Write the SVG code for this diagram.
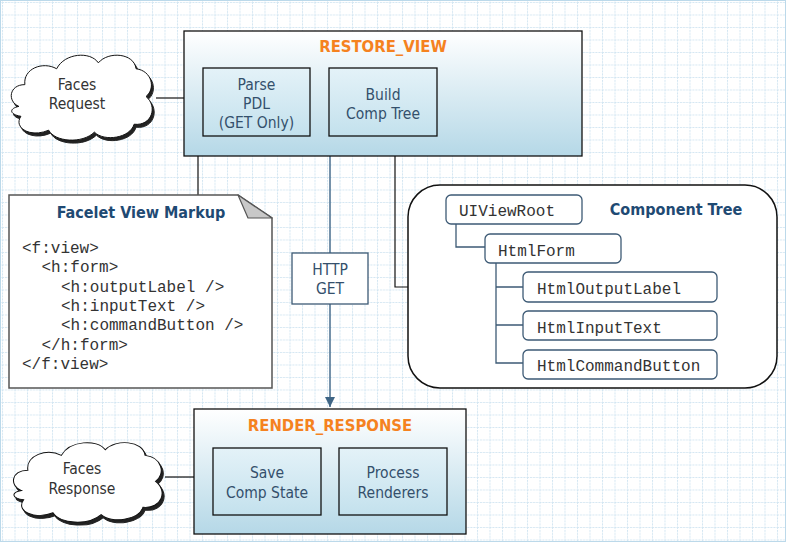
<svg xmlns="http://www.w3.org/2000/svg" width="786" height="542" viewBox="0 0 786 542">
<defs>
<pattern id="grid" x="2" y="2" width="12.5" height="12.5" patternUnits="userSpaceOnUse">
<path d="M0,0.5 H12.5 M0.5,0 V12.5" fill="none" stroke="#d3e6f2" stroke-width="1" stroke-dasharray="2,1"/>
</pattern>
<linearGradient id="phase" x1="0" y1="0" x2="0" y2="1">
<stop offset="0" stop-color="#ffffff"/>
<stop offset="1" stop-color="#b5d8e7"/>
</linearGradient>
<linearGradient id="inner" x1="0" y1="0" x2="0" y2="1">
<stop offset="0" stop-color="#e4f2f8"/>
<stop offset="1" stop-color="#c3e1ed"/>
</linearGradient>
<path id="cloud" d="M12,60 C0,55 2,38 18,38 C16,22 36,14 50,22 C58,6 84,4 92,16 C102,4 128,6 130,22 C146,24 150,42 140,50 C152,60 146,80 128,78 C124,92 98,96 88,86 C76,98 48,96 42,84 C24,92 6,82 14,70 C2,68 2,62 12,60 Z"/>
<marker id="arr" viewBox="0 0 10 10" refX="10" refY="5" markerWidth="10" markerHeight="10" markerUnits="userSpaceOnUse" orient="auto">
<path d="M0,0 L10,5 L0,10 Z" fill="#3f6585"/>
</marker>
</defs>
<style>
.sans{font-family:"DejaVu Sans Condensed","DejaVu Sans",sans-serif;font-stretch:condensed;}
.box{fill:url(#inner);stroke:#111;stroke-width:1.3;}
.phase{fill:url(#phase);stroke:#111;stroke-width:1.3;}
.lbl{font-size:15.5px;fill:#34506c;text-anchor:middle;}
.title{font-size:16.5px;font-weight:bold;fill:#f5821f;text-anchor:middle;}
.head{font-size:16px;font-weight:bold;fill:#1f4a73;text-anchor:middle;}
.cl{font-size:15.5px;fill:#333;text-anchor:middle;}
.mono{font-family:"Liberation Mono","Courier New",monospace;font-size:16px;fill:#333;}
.tbox{fill:#fff;stroke:#3d5a75;stroke-width:1.3;}
.line{fill:none;stroke:#111;stroke-width:1.2;}
.tline{fill:none;stroke:#3d5a75;stroke-width:1.3;}
</style>
<rect width="786" height="542" fill="#fff"/>
<rect width="786" height="542" fill="url(#grid)"/>
<rect x="0.5" y="0.5" width="785" height="541" fill="none" stroke="#bcd9ea" stroke-width="1"/>

<g id="connectors">
<path class="line" d="M156,98 H184"/>
<path class="line" d="M310,98 H329"/>
<path class="line" d="M203,136 H198 V195"/>
<path class="line" d="M395,136 V287 H408"/>
<path d="M330,156 V253 M330,304 V407" fill="none" stroke="#4a6f8f" stroke-width="1.5" marker-end="url(#arr)"/>
<path class="line" d="M165,477 H194"/>
<path class="line" d="M321,487 H339"/>
</g>

<g id="faces-request">
<use href="#cloud" transform="translate(9,50) scale(0.993,0.99)" fill="#222" stroke="#222" stroke-width="1"/>
<use href="#cloud" transform="translate(7,47) scale(0.993,0.99)" fill="#fff" stroke="#111" stroke-width="1" vector-effect="non-scaling-stroke"/>
<text class="sans cl" x="77" y="90">Faces</text>
<text class="sans cl" x="77" y="109">Request</text>
</g>

<g id="restore-view">
<rect class="phase" x="184" y="31" width="398" height="125"/>
<text class="sans title" x="383" y="52">RESTORE_VIEW</text>
</g>
<g id="parse-pdl">
<rect class="box" x="203" y="68" width="107" height="68"/>
<text class="sans lbl" x="256.5" y="90">Parse</text>
<text class="sans lbl" x="256.5" y="109">PDL</text>
<text class="sans lbl" x="256.5" y="128">(GET Only)</text>
</g>
<g id="build-comp-tree">
<rect class="box" x="329" y="68" width="108" height="68"/>
<text class="sans lbl" x="383" y="99.5">Build</text>
<text class="sans lbl" x="383" y="118.5">Comp Tree</text>
</g>

<g id="facelet-markup">
<path d="M9,195 H238 L272,218 V388 H9 Z" fill="#fff" stroke="#555" stroke-width="1.5"/>
<path d="M238,195 L248,218 L272,218 Z" fill="#c8c8c8" stroke="#555" stroke-width="1.2" stroke-linejoin="round"/>
<text class="sans head" x="141" y="218">Facelet View Markup</text>
<text class="mono" x="22" y="253">&lt;f:view&gt;</text>
<text class="mono" x="41.5" y="272">&lt;h:form&gt;</text>
<text class="mono" x="61" y="291.5">&lt;h:outputLabel /&gt;</text>
<text class="mono" x="61" y="311">&lt;h:inputText /&gt;</text>
<text class="mono" x="61" y="330">&lt;h:commandButton /&gt;</text>
<text class="mono" x="41.5" y="349.5">&lt;/h:form&gt;</text>
<text class="mono" x="22" y="369">&lt;/f:view&gt;</text>
</g>

<g id="http-get">
<rect x="292" y="253" width="76" height="51" fill="#fff" stroke="#3d5a75" stroke-width="1.3"/>
<text class="sans lbl" x="330" y="274.5">HTTP</text>
<text class="sans lbl" x="330" y="293.5">GET</text>
</g>

<g id="component-tree">
<rect x="408" y="185" width="369" height="203" rx="32" ry="32" fill="#fff" stroke="#111" stroke-width="1.5"/>
<text class="sans head" x="676" y="215">Component Tree</text>
<path class="tline" d="M456,224 V247 H485"/>
<path class="tline" d="M496,263 V363 H523 M496,287 H523 M496,325 H523"/>
<rect class="tbox" x="446" y="195" width="136" height="29" rx="5"/>
<text class="mono" x="459" y="216">UIViewRoot</text>
<rect class="tbox" x="485" y="234" width="136" height="29" rx="5"/>
<text class="mono" x="498" y="256">HtmlForm</text>
<rect class="tbox" x="523" y="272" width="194" height="30" rx="5"/>
<text class="mono" x="537" y="294">HtmlOutputLabel</text>
<rect class="tbox" x="523" y="311" width="194" height="29" rx="5"/>
<text class="mono" x="537" y="333">HtmlInputText</text>
<rect class="tbox" x="523" y="350" width="194" height="29" rx="5"/>
<text class="mono" x="537" y="371">HtmlCommandButton</text>
</g>

<g id="faces-response">
<use href="#cloud" transform="translate(11,438) scale(1.047,0.926)" fill="#222" stroke="#222" stroke-width="1"/>
<use href="#cloud" transform="translate(9,435) scale(1.047,0.926)" fill="#fff" stroke="#111" stroke-width="1" vector-effect="non-scaling-stroke"/>
<text class="sans cl" x="82" y="473.5">Faces</text>
<text class="sans cl" x="82" y="493.5">Response</text>
</g>

<g id="render-response">
<rect class="phase" x="194" y="409" width="272" height="125"/>
<text class="sans title" x="330" y="431">RENDER_RESPONSE</text>
</g>
<g id="save-comp-state">
<rect class="box" x="213" y="448" width="108" height="67"/>
<text class="sans lbl" x="267" y="477.5">Save</text>
<text class="sans lbl" x="267" y="497.5">Comp State</text>
</g>
<g id="process-renderers">
<rect class="box" x="339" y="448" width="108" height="67"/>
<text class="sans lbl" x="393" y="477.5">Process</text>
<text class="sans lbl" x="393" y="497.5">Renderers</text>
</g>
</svg>
